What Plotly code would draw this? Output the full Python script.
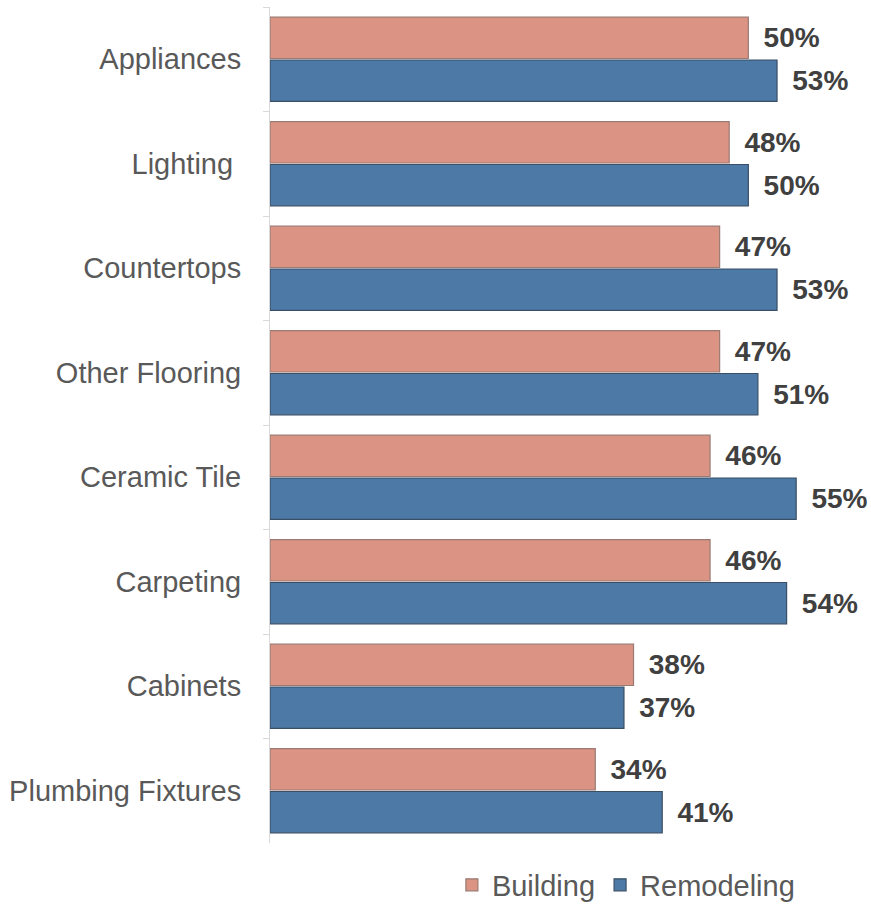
import plotly.graph_objects as go

categories = ["Appliances", "Lighting ", "Countertops", "Other Flooring", "Ceramic Tile",
              "Carpeting", "Cabinets", "Plumbing Fixtures"]
building = [50, 48, 47, 47, 46, 46, 38, 34]
remodeling = [53, 50, 53, 51, 55, 54, 37, 41]

label_font = dict(family="Liberation Sans, Arial", size=28, color="#404040")
pad = '<span style="font-size:22px">&nbsp;&nbsp;</span>'

fig = go.Figure()
fig.add_trace(go.Bar(
    y=categories, x=building, name="Building", orientation="h",
    marker=dict(color="#DB9384", line=dict(color="#9a7a72", width=1.2)),
    text=[f"{v}%" for v in building], textposition="outside",
    textfont=label_font,
    texttemplate=pad + "<b>%{text}</b>", cliponaxis=False,
))
fig.add_trace(go.Bar(
    y=categories, x=remodeling, name="Remodeling", orientation="h",
    marker=dict(color="#4C79A5", line=dict(color="#3a4f66", width=1.2)),
    text=[f"{v}%" for v in remodeling], textposition="outside",
    textfont=label_font,
    texttemplate=pad + "<b>%{text}</b>", cliponaxis=False,
))

fig.update_layout(
    width=871, height=915,
    margin=dict(l=270, r=27, t=7, b=72, autoexpand=False),
    barmode="group", bargap=0.18, bargroupgap=0.035,
    plot_bgcolor="white", paper_bgcolor="white",
    font=dict(family="Liberation Sans, Arial", color="#595959"),
    xaxis=dict(range=[0, 60], visible=False, fixedrange=True),
    yaxis=dict(
        autorange="reversed", showline=True, linecolor="#D9D9D9", linewidth=1,
        ticks="outside", tickson="boundaries", ticklen=6, tickcolor="#D9D9D9",
        tickfont=dict(size=29, color="#595959"), ticklabelstandoff=22,
        showgrid=False,
    ),
    legend=dict(orientation="h", x=0.62, xanchor="center",
                yref="container", y=(915 - 885) / 915, yanchor="middle",
                font=dict(size=29, color="#595959"), itemwidth=30,
                traceorder="normal"),
    showlegend=True,
)
fig.write_html("out.html")
